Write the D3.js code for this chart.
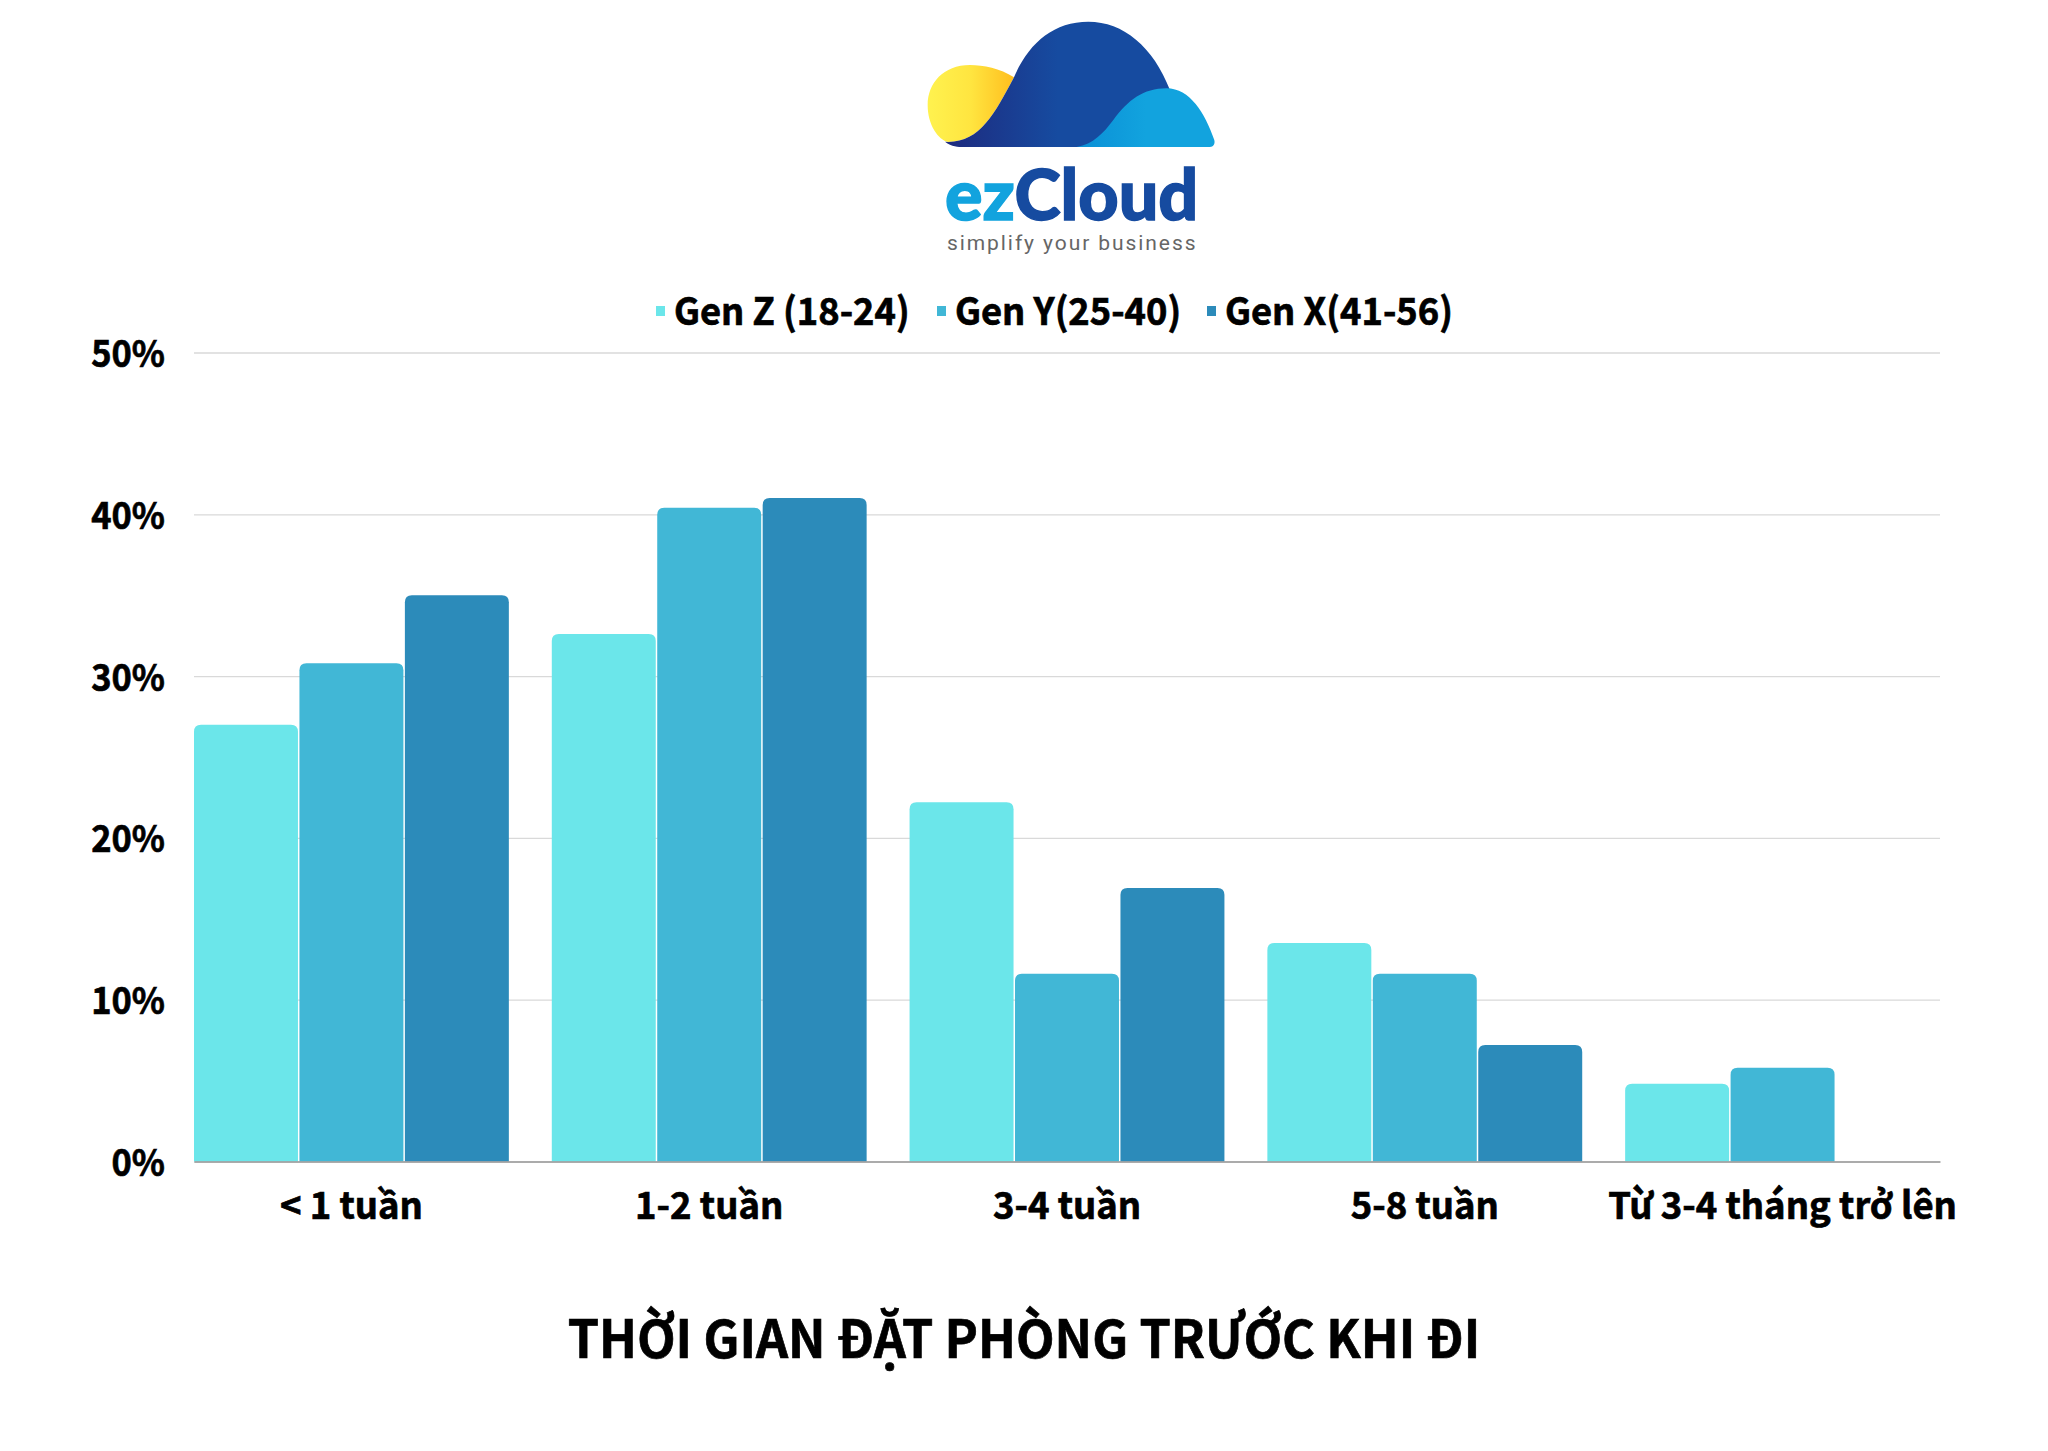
<!DOCTYPE html>
<html>
<head>
<meta charset="utf-8">
<script src="https://cdn.jsdelivr.net/npm/d3@7"></script>
<style>
  html, body { margin: 0; padding: 0; background: #fff; }
  text { font-family: "Noto Sans CJK SC", "Noto Sans", sans-serif; font-weight: 700; fill: #000; stroke: #000; stroke-width: 0.7px; }
</style>
</head>
<body>
<div id="chart"></div>
<script>
// data
const categories = ["< 1 tuần", "1-2 tuần", "3-4 tuần", "5-8 tuần", "Từ 3-4 tháng trở lên"];
const seriesNames = ["Gen Z (18-24)", "Gen Y(25-40)", "Gen X(41-56)"];
const genZ = [27.0, 32.6, 22.2, 13.5, 4.8];
const genY = [30.8, 40.4, 11.6, 11.6, 5.8];
const genX = [35.0, 41.0, 16.9, 7.2, null];
const yTicks = [0, 10, 20, 30, 40, 50];
const chartTitle = "THỜI GIAN ĐẶT PHÒNG TRƯỚC KHI ĐI";

const colors = ["#6BE6EA", "#41B7D6", "#2C8BBA"];
const allSeries = [genZ, genY, genX];

const width = 2048, height = 1451;
const margin = {top: 352.5, right: 108, bottom: 289.5, left: 194};

const svg = d3.select("#chart").append("svg")
    .attr("width", width)
    .attr("height", height)
    .style("display", "block");

// the reference font runs narrower than the installed one, so squeeze the text a bit
function squeeze(sel, ratio) {
  sel.each(function() {
    const len = this.getComputedTextLength();
    d3.select(this).attr("textLength", len * ratio).attr("lengthAdjust", "spacingAndGlyphs");
  });
}

// scales
const x0 = d3.scaleBand()
    .domain(categories)
    .range([margin.left, width - margin.right])
    .paddingInner(0.12);

const x1 = d3.scaleBand()
    .domain(d3.range(seriesNames.length))
    .range([0, x0.bandwidth()])
    .paddingInner(0.014);

const y = d3.scaleLinear()
    .domain([0, 50])
    .range([height - margin.bottom, margin.top]);

// y axis + gridlines
const yAxis = svg.append("g")
    .attr("transform", "translate(" + margin.left + ",0)")
    .call(d3.axisLeft(y).tickValues(yTicks).tickFormat(d => d + "%").tickSize(-(width - margin.left - margin.right)).tickPadding(29));
yAxis.select(".domain").remove();
yAxis.selectAll("line").attr("stroke", "#d9d9d9").attr("stroke-width", 1.3);
yAxis.selectAll("text").attr("font-size", 37).attr("dy", "0.38em").call(squeeze, 0.93);

// rounded top bars
function topRounded(x, yTop, w, yBase, r) {
  return "M" + x + "," + yBase
    + "V" + (yTop + r)
    + "Q" + x + "," + yTop + " " + (x + r) + "," + yTop
    + "H" + (x + w - r)
    + "Q" + (x + w) + "," + yTop + " " + (x + w) + "," + (yTop + r)
    + "V" + yBase + "Z";
}

const groups = svg.selectAll("g.group")
    .data(categories)
    .enter().append("g")
    .attr("class", "group")
    .attr("transform", d => "translate(" + x0(d) + ",0)");

groups.selectAll("path")
    .data((d, i) => allSeries.map((s, j) => ({series: j, value: s[i]})).filter(d => d.value != null))
    .enter().append("path")
    .attr("fill", d => colors[d.series])
    .attr("d", d => topRounded(x1(d.series), y(d.value), x1.bandwidth(), y(0), 7));

// x axis
const xAxis = svg.append("g")
    .attr("transform", "translate(0," + y(0) + ")")
    .call(d3.axisBottom(x0).tickSize(0).tickPadding(31));
xAxis.select(".domain").attr("stroke", "#999").attr("stroke-width", 1.3);
xAxis.selectAll("text").attr("font-size", 37).call(squeeze, 0.985);

// legend
const legendX = [656, 937, 1207];
const legend = svg.selectAll("g.legend")
    .data(seriesNames)
    .enter().append("g")
    .attr("class", "legend")
    .attr("transform", (d, i) => "translate(" + legendX[i] + ",311)");
legend.append("rect")
    .attr("y", -5).attr("width", 9).attr("height", 10)
    .attr("fill", (d, i) => colors[i]);
legend.append("text")
    .attr("x", 18).attr("y", 14)
    .attr("font-size", 38)
    .text(d => d)
    .call(squeeze, 0.955);

// title
svg.append("text")
    .attr("x", 1024).attr("y", 1358)
    .attr("text-anchor", "middle")
    .attr("font-size", 52)
    .text(chartTitle)
    .call(squeeze, 0.964);

// logo
const defs = svg.append("defs");
function grad(id, stops) {
  const g = defs.append("linearGradient").attr("id", id)
      .attr("x1", "0%").attr("x2", "100%").attr("y1", "0%").attr("y2", "0%");
  stops.forEach((s, i) => g.append("stop").attr("offset", i / (stops.length - 1)).attr("stop-color", s));
}
grad("sun", ["#FFF24F", "#FFE540", "#FFBE1E"]);
grad("hill", ["#1E2A7E", "#164BA0", "#164BA0"]);
grad("hill2", ["#0A8FD6", "#12A3DE", "#12A3DE"]);

const logo = svg.append("g").attr("transform", "translate(880,0) scale(0.3333)");
logo.append("path").attr("fill", "url(#sun)")
    .attr("d", "M402,232C360,205 310,195 270,195C190,195 143,250 143,315C143,375 175,420 205,426C300,426 345,340 402,232Z");
logo.append("path").attr("fill", "url(#hill)")
    .attr("d", "M195,425C215,440 235,441 250,441L640,441L870,270C820,140 730,65 625,65C520,65 445,130 402,232C345,340 300,426 205,426Z");
logo.append("path").attr("fill", "url(#hill2)")
    .attr("d", "M590,441C640,432 670,400 700,360C745,300 790,265 860,265C930,265 975,340 1003,420C1006,432 1000,441 990,441Z");

const brand = svg.append("text")
    .attr("x", 945).attr("y", 220)
    .attr("font-size", 70);
brand.style("font-family", "Lato, sans-serif").style("font-weight", 900).style("stroke", "none");
brand.append("tspan").style("fill", "#12A3DE").style("stroke", "#12A3DE").style("stroke-width", "1.4px").text("ez");
brand.append("tspan").style("fill", "#164BA0").style("stroke", "#164BA0").style("stroke-width", "1.4px").text("Cloud");

svg.append("text")
    .attr("x", 947).attr("y", 250)
    .attr("font-size", 21)
    .attr("letter-spacing", 1.92)
    .style("font-family", "Roboto, sans-serif")
    .style("font-weight", 400)
    .style("stroke", "none")
    .style("fill", "#666")
    .text("simplify your business");
</script>
</body>
</html>
